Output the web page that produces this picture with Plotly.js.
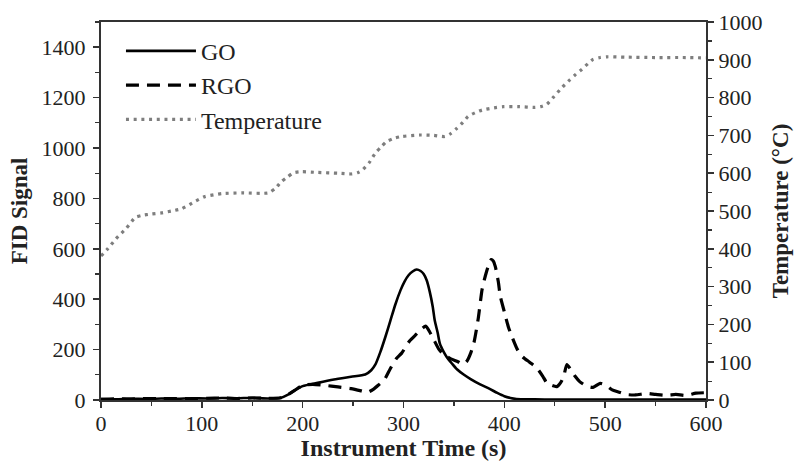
<!DOCTYPE html>
<html>
<head>
<meta charset="utf-8">
<script src="https://cdn.plot.ly/plotly-3.0.1.min.js"></script>
<style>
  html, body { margin: 0; padding: 0; background: #ffffff; }
  #chart { width: 800px; height: 461px; }
</style>
</head>
<body>
<div id="chart"></div>
<script>
// GO: FID signal versus instrument time
const goTime = [0, 15, 30, 45, 60, 75, 90, 105, 120, 135, 150, 165, 178, 185, 192, 200, 215, 231, 248, 262, 268, 272, 277, 282, 287, 292, 297, 301, 305, 309, 313, 317, 320, 323, 326, 329, 331, 334, 336, 340, 343, 348, 353, 360, 367, 376, 385, 393, 400, 406, 412, 420, 440, 460, 480, 500, 520, 540, 560, 580, 600];
const goSignal = [4, 3, 5, 4, 6, 5, 7, 6, 8, 7, 9, 6, 8, 20, 38, 55, 68, 81, 92, 101, 118, 140, 190, 250, 315, 380, 435, 470, 495, 510, 518, 512, 500, 475, 430, 370, 315, 265, 225, 190, 170, 145, 122, 100, 82, 62, 45, 28, 15, 8, 4, 3, 2, 2, 2, 2, 2, 2, 2, 2, 2];

// RGO: FID signal versus instrument time
const rgoTime = [0, 15, 30, 45, 60, 75, 90, 105, 120, 135, 150, 165, 178, 185, 192, 200, 210, 222, 235, 248, 258, 264, 270, 276, 281, 287, 293, 298, 306, 313, 318, 322, 326, 330, 335, 340, 347, 354, 359, 363, 367, 370, 374, 378, 381, 384, 387, 389, 391, 394, 396, 400, 404, 408, 413, 418, 425, 432, 438, 442, 447, 452, 456, 459, 462, 466, 470, 475, 482, 488, 495, 501, 507, 513, 521, 530, 541, 550, 561, 570, 580, 590, 600];
const rgoSignal = [3, 5, 4, 6, 5, 6, 5, 7, 8, 6, 8, 7, 9, 20, 38, 58, 62, 58, 52, 45, 36, 30, 42, 62, 80, 125, 165, 185, 234, 262, 282, 293, 270, 240, 202, 180, 163, 152, 141, 155, 190, 230, 320, 440, 490, 530, 557, 552, 530, 470, 412, 350, 290, 247, 200, 172, 150, 128, 95, 69, 58, 53, 70, 95, 141, 120, 95, 72, 55, 50, 66, 58, 40, 32, 22, 20, 26, 22, 18, 22, 18, 27, 29];

// Furnace temperature (°C), right axis
const tempTime = [0, 7, 15, 25, 34, 40, 50, 60, 70, 80, 93, 103, 120, 140, 166, 173, 179, 185, 191, 199, 215, 235, 249, 255, 259, 266, 272, 278, 283, 290, 298, 316, 330, 341, 347, 353, 359, 364, 371, 378, 390, 399, 415, 430, 436, 442, 449, 457, 465, 471, 477, 483, 488, 495, 502, 520, 550, 580, 600];
const tempValue = [381, 401, 427, 454, 483, 488, 492, 495, 500, 506, 525, 538, 546, 548, 548, 560, 578, 590, 601, 604, 602, 600, 598, 602, 608, 628, 653, 670, 683, 692, 697, 701, 700, 697, 705, 719, 735, 750, 760, 767, 773, 776, 776, 774, 776, 782, 802, 826, 847, 862, 875, 890, 901, 906, 908, 907, 906, 906, 905];

const xTicks = [0, 100, 200, 300, 400, 500, 600];
const fidTicks = [0, 200, 400, 600, 800, 1000, 1200, 1400];
const tempTicks = [0, 100, 200, 300, 400, 500, 600, 700, 800, 900, 1000];

const serif = 'Liberation Serif, Times New Roman, serif';
const axisColor = '#333333';
const textColor = '#222222';

const traces = [
  {
    x: goTime, y: goSignal, name: 'GO', type: 'scatter', mode: 'lines',
    line: { color: '#000000', width: 2.6, shape: 'spline', smoothing: 0.6 },
    legendgroup: 'a', xaxis: 'x', yaxis: 'y'
  },
  {
    x: rgoTime, y: rgoSignal, name: 'RGO', type: 'scatter', mode: 'lines',
    line: { color: '#000000', width: 3.2, dash: '13px,8px', shape: 'spline', smoothing: 0.6 },
    legendgroup: 'b', xaxis: 'x', yaxis: 'y'
  },
  {
    x: tempTime, y: tempValue, name: 'Temperature', type: 'scatter', mode: 'lines',
    line: { color: '#7e7e7e', width: 3.2, dash: '3px,4.7px', shape: 'spline', smoothing: 0.6 },
    legendgroup: 'c', xaxis: 'x', yaxis: 'y2'
  }
];

const tickFont = { family: serif, size: 22, color: textColor };
const xTitleFont = { family: serif, size: 24, color: textColor, weight: 'bold' };
const yTitleFont = { family: serif, size: 23, color: textColor, weight: 'bold' };

const layout = {
  width: 800,
  height: 461,
  margin: { l: 101, r: 94, t: 22, b: 61 },
  paper_bgcolor: '#ffffff',
  plot_bgcolor: '#ffffff',
  font: { family: serif, color: textColor },
  showlegend: true,
  legend: {
    x: 0.033, y: 0.982, xanchor: 'left', yanchor: 'top',
    bgcolor: 'rgba(0,0,0,0)',
    font: { family: serif, size: 24, color: textColor },
    itemwidth: 70,
    tracegroupgap: 5,
    traceorder: 'normal'
  },
  xaxis: {
    range: [0, 600],
    tickvals: xTicks,
    ticks: 'outside', ticklen: 6, tickwidth: 1.5, tickcolor: axisColor,
    minor: { dtick: 50, tick0: 0, ticks: 'outside', ticklen: 4, tickwidth: 1.2, tickcolor: axisColor },
    showline: true, linecolor: axisColor, linewidth: 2, mirror: true,
    showgrid: false, zeroline: false,
    tickfont: tickFont, ticklabelstandoff: -3,
    title: { text: 'Instrument Time (s)', font: xTitleFont, standoff: 9 }
  },
  yaxis: {
    range: [0, 1500],
    tickvals: fidTicks,
    ticks: 'outside', ticklen: 6, tickwidth: 1.5, tickcolor: axisColor,
    minor: { dtick: 100, tick0: 0, ticks: 'outside', ticklen: 4, tickwidth: 1.2, tickcolor: axisColor },
    showline: true, linecolor: axisColor, linewidth: 2,
    showgrid: false, zeroline: false,
    tickfont: tickFont, ticklabelstandoff: 3,
    title: { text: 'FID Signal', font: yTitleFont, standoff: 8 }
  },
  yaxis2: {
    range: [0, 1000],
    overlaying: 'y', side: 'right', anchor: 'x',
    tickvals: tempTicks,
    ticks: 'outside', ticklen: 6, tickwidth: 1.5, tickcolor: axisColor,
    minor: { dtick: 50, tick0: 0, ticks: 'outside', ticklen: 4, tickwidth: 1.2, tickcolor: axisColor },
    showline: true, linecolor: axisColor, linewidth: 2,
    showgrid: false, zeroline: false,
    tickfont: tickFont,
    title: { text: 'Temperature (°C)', font: yTitleFont, standoff: 10 }
  },
  // inner halves of the major ticks, so they cross the axis lines
  xaxis2: {
    range: [0, 600], overlaying: 'x', anchor: 'y', side: 'bottom',
    tickvals: xTicks, ticks: 'inside', ticklen: 6, tickwidth: 1.5, tickcolor: axisColor,
    showticklabels: false, showline: false, showgrid: false, zeroline: false
  },
  yaxis3: {
    range: [0, 1500], overlaying: 'y', anchor: 'x', side: 'left',
    tickvals: fidTicks, ticks: 'inside', ticklen: 6, tickwidth: 1.5, tickcolor: axisColor,
    showticklabels: false, showline: false, showgrid: false, zeroline: false
  },
  yaxis4: {
    range: [0, 1000], overlaying: 'y', anchor: 'x', side: 'right',
    tickvals: tempTicks, ticks: 'inside', ticklen: 6, tickwidth: 1.5, tickcolor: axisColor,
    showticklabels: false, showline: false, showgrid: false, zeroline: false
  }
};

Plotly.newPlot('chart', traces, layout, { displayModeBar: false, staticPlot: true });
</script>
</body>
</html>
